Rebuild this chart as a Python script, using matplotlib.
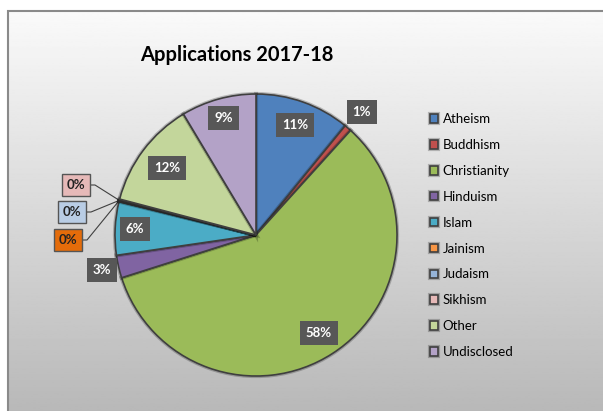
import numpy as np
import matplotlib
matplotlib.use('Agg')
from matplotlib import pyplot as plt
from matplotlib.patches import Rectangle
import matplotlib.patheffects as pe

# share of applications by religion, 2017-18 (percent)
religions = ['Atheism', 'Buddhism', 'Christianity', 'Hinduism', 'Islam',
             'Jainism', 'Judaism', 'Sikhism', 'Other', 'Undisclosed']
shares = [10.9, 0.8, 58.4, 2.6, 6.1, 0.1, 0.1, 0.1, 12.3, 8.6]
colours = ['#4f81bd', '#c0504d', '#9bbb59', '#8064a2', '#4bacc6',
           '#f79646', '#95b3d7', '#e6b9b8', '#c3d69b', '#b3a2c7']
# fills for the 0% boxes
zero_box = {'Jainism': '#e46c0a', 'Judaism': '#b9cde5', 'Sikhism': '#e6b9b8'}

plt.rcParams['font.family'] = ['Lato', 'DejaVu Sans']

W, H = 603, 411
fig = plt.figure(figsize=(W / 100, H / 100), dpi=100)
ax = fig.add_axes([0, 0, 1, 1])

cx, cy, r = 256, H - 235, 141
explode = [0, 0, 0.035, 0, 0, 0, 0, 0, 0, 0]
wedges, _ = ax.pie(shares, colors=colours, startangle=90, counterclock=False,
                   center=(cx, cy), radius=r, explode=explode,
                   wedgeprops=dict(ec='#3f3f3f', lw=1.2))
for w in wedges:
    w.set_zorder(3)
    w.set_path_effects([pe.Stroke(linewidth=3, foreground=(0, 0, 0, 0.22)), pe.Normal()])

ax.axis('off')

# chart area: grey gradient inside a thin frame
grad = np.linspace(0.98, 0.72, 256).reshape(-1, 1)
ax.imshow(grad, cmap='gray', vmin=0, vmax=1, extent=(8, W + 5, -5, H - 11),
          aspect='auto', zorder=0)
ax.add_patch(Rectangle((8, -5), W, H - 11 + 5, fill=False, ec='#8a8a8a', lw=1.5, zorder=1))
ax.set_xlim(0, W)
ax.set_ylim(0, H)
ax.set_aspect('auto')

# percentage labels
total = sum(shares)
label_r = [0.83, 1.15, 0.79, 1.12, 0.86, None, None, None, 0.79, 0.86]
start = 0.0
for i, v in enumerate(shares):
    mid = start + v / 2
    ang = np.deg2rad(90 - 360 * mid / total)
    start += v
    if label_r[i] is None:
        continue
    ox = cx + explode[i] * r * np.cos(ang)
    oy = cy + explode[i] * r * np.sin(ang)
    ax.text(ox + label_r[i] * r * np.cos(ang), oy + label_r[i] * r * np.sin(ang),
            '%d%%' % round(100 * v / total), color='white', fontsize=9.5,
            fontweight='bold', ha='center', va='center', zorder=5,
            bbox=dict(boxstyle='square,pad=0.45', fc='#575757', ec='none'))

# the three empty slices share one point on the rim
cum0 = sum(shares[:5]) + 0.15
a0 = np.deg2rad(90 - 360 * cum0 / total)
px, py = cx + r * np.cos(a0), cy + r * np.sin(a0)
zero_pos = {'Sikhism': (76, H - 185), 'Judaism': (72, H - 212), 'Jainism': (68, H - 240)}
for name in ['Jainism', 'Judaism', 'Sikhism']:
    i = religions.index(name)
    tx, ty = zero_pos[name]
    ax.plot([tx + 13, tx + 19, px], [ty, ty, py], color='#404040', lw=0.8, zorder=2)
    ax.text(tx, ty, '%d%%' % round(100 * shares[i] / total), color='#222222',
            fontsize=9.5, fontweight='bold', ha='center', va='center', zorder=5,
            bbox=dict(boxstyle='square,pad=0.35', fc=zero_box[name], ec='#555555', lw=1.0))

ax.text(237, H - 55, 'Applications 2017-18', fontsize=14.5, fontweight='bold',
        ha='center', va='center', color='black', zorder=5)

leg = ax.legend(wedges, religions, loc='upper left', bbox_to_anchor=(425 / W, 1 - 108 / H),
                frameon=False, fontsize=9.5, handlelength=0.6, handleheight=0.6,
                handletextpad=0.35, labelspacing=1.05, borderaxespad=0)

fig.savefig('out.png', dpi=100)
